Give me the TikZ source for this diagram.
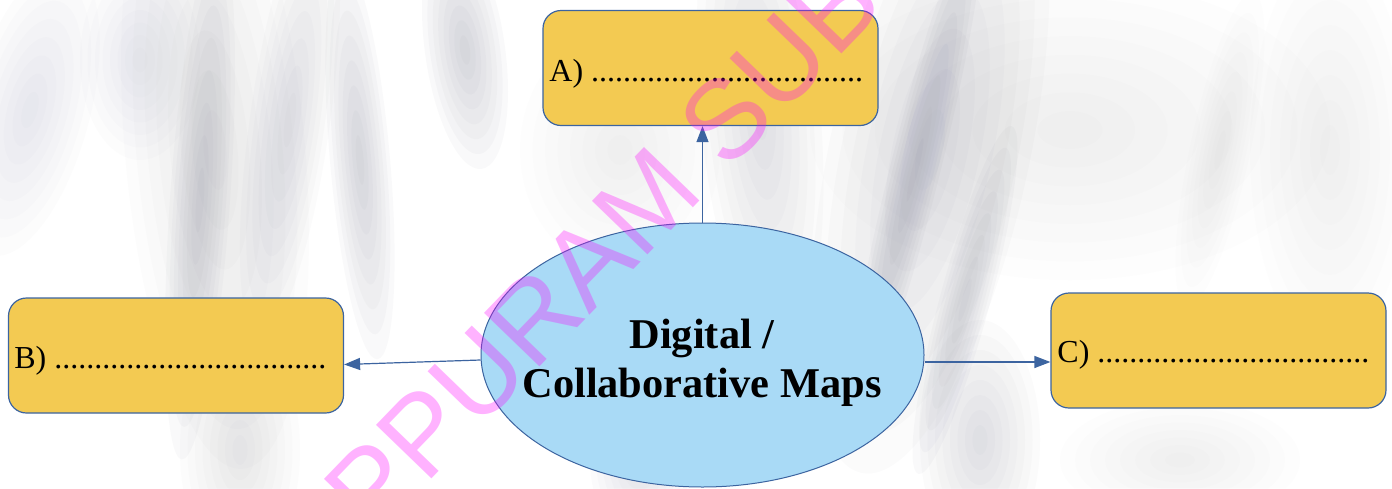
\documentclass[tikz,border=0pt]{standalone}
\usepackage{fontspec}
\setmainfont{Liberation Serif}
\newfontfamily\wmfont{Liberation Sans}
\usetikzlibrary{arrows.meta,shapes.geometric}
\definecolor{boxfill}{RGB}{243,202,82}
\definecolor{boxline}{RGB}{60,100,160}
\definecolor{ellfill}{RGB}{169,218,246}
\definecolor{marble}{RGB}{130,132,150}
\definecolor{wmcol}{RGB}{255,0,255}
\begin{document}
\begin{tikzpicture}[x=0.5pt,y=-0.5pt,
  answerbox/.style={draw=boxline, line width=0.6pt, fill=boxfill, rounded corners=9pt,
    minimum width=167.5pt, minimum height=57.5pt, inner sep=0pt},
  answertext/.style={anchor=base west, inner sep=0pt, font=\fontsize{16}{16}\selectfont},
  topic/.style={ellipse, draw=boxline, line width=0.5pt, fill=ellfill, inner sep=0pt,
    minimum width=221.5pt, minimum height=132pt},
  topictext/.style={align=center, inner sep=0pt, font=\bfseries\fontsize{21.2}{24.5}\selectfont},
  conn/.style={draw=boxline, line width=0.6pt, -{Triangle[length=8pt,width=6pt]}},
  layer/.style={fill=marble, draw=none, fill opacity=#1}]
\fill[white] (0,0) rectangle (1392,488);
\useasboundingbox (0,0) rectangle (1392,488);
% marble background (soft streaks built from faint stacked ellipses)
\begin{scope}
\clip (0,0) rectangle (1392,488);
\foreach \cx/\cy/\rx/\ry/\ang/\op in {
  215/150/90/320/5/0.2, 200/200/30/260/-4/0.35, 290/120/40/220/-8/0.25,
  360/160/30/200/5/0.35, 465/50/40/120/8/0.35, 140/60/60/100/0/0.16,
  30/110/60/150/-15/0.16, 240/450/60/120/0/0.2, 760/110/60/240/5/0.25,
  640/460/50/80/0/0.22, 620/150/100/120/0/0.1, 930/150/100/330/-12/0.25,
  915/170/25/260/-14/0.4, 965/300/25/180/-15/0.35, 980/440/60/120/0/0.25,
  1070/130/260/150/0/0.12, 1220/150/30/160/-12/0.14, 1330/150/80/200/0/0.08,
  1180/460/120/60/0/0.08}
  \foreach \k in {1,...,8}
    \fill[layer=\op/8, rotate around={\ang:(\cx,\cy)}] (\cx,\cy) ellipse [x radius=\rx*\k/8, y radius=\ry*\k/8];
\end{scope}
% central topic
\node[topic] (M) at (702.5,355) {};
\node[topictext] (Mt) at (702,362.5) {Digital /\\Collaborative Maps};
% answer boxes
\node[answerbox] (A) at (710.5,68) {};
\node[answerbox] (B) at (176,355.5) {};
\node[answerbox] (C) at (1218.5,350.5) {};
\node[answertext] (At) at (549,81) {A) ..................................};
\node[answertext] (Bt) at (14,368) {B) ..................................};
\node[answertext] (Ct) at (1057,362) {C) ..................................};
% connectors
\draw[conn] (M.north) -- (M.north |- A.south);
\draw[conn] ([yshift=-2.5pt]M.west) -- ([yshift=-4.5pt]B.east);
\draw[conn] ([yshift=-3.5pt]M.east) -- ([yshift=-5.75pt]C.west);
% watermark
\begin{scope}
\clip (0,0) rectangle (1392,488);
\node[anchor=base east, inner sep=0pt, rotate=46, opacity=0.3, text=wmcol,
  font=\wmfont\fontsize{56}{56}\selectfont] (wm) at (888,6) {APPURAM SUB};
\end{scope}
\end{tikzpicture}
\end{document}
